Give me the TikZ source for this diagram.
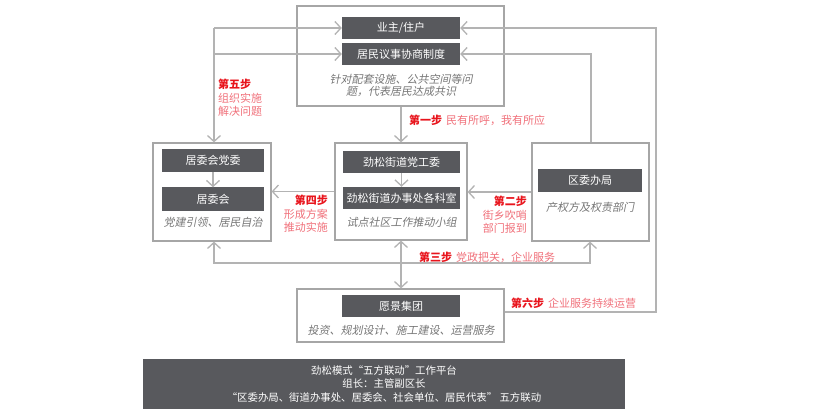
\documentclass[tikz,border=0pt]{standalone}
\usepackage{fontspec}
\setmainfont{Noto Sans CJK SC}
\newfontfamily\cjkit{Noto Sans CJK SC}[FakeSlant=0.2]
\usetikzlibrary{arrows.meta}
\definecolor{cbar}{HTML}{58595D}
\definecolor{cline}{HTML}{B3B3B3}
\definecolor{cbox}{HTML}{A6A6A6}
\definecolor{cnote}{HTML}{767676}
\definecolor{cred}{HTML}{E8141C}
\definecolor{cpink}{HTML}{F0707A}
\newcommand{\stepno}[1]{{\bfseries\color{cred}#1}}
\tikzset{
  frame/.style={draw=cbox, line width=1.2pt, inner sep=0pt},
  barbox/.style={fill=cbar, text=white, inner sep=0pt, minimum height=22pt, font=\fontsize{11}{13}\selectfont},
  note/.style={text=cnote, font=\cjkit\fontsize{11}{12}\selectfont, align=center, inner sep=0pt},
  conn/.style={draw=cline, line width=1.3pt},
  tip/.style={-{Straight Barb[length=6pt,width=13pt]}},
  tips/.style={{Straight Barb[length=6pt,width=13pt]}-{Straight Barb[length=6pt,width=13pt]}},
  steptxt/.style={font=\fontsize{11}{13.5}\selectfont, text=cpink, inner sep=0pt},
}
\begin{document}
\begin{tikzpicture}[x=1pt,y=-1pt]
\useasboundingbox (0,0) rectangle (833,417);

% top box
\node[frame, minimum width=207pt, minimum height=100pt] (topbox) at (400.5,56) {};
\node[barbox, minimum width=118pt] (yz) at (401,28) {业主/住户};
\node[barbox, minimum width=118pt] (jm) at (401,54) {居民议事协商制度};
\node[note] (topnote) at (401,85) {针对配套设施、公共空间等问\\题，代表居民达成共识};

% middle box
\node[frame, minimum width=132pt, minimum height=97pt] (mid) at (401,191.5) {};
\node[barbox, minimum width=117pt] (jsd) at (401.5,162) {劲松街道党工委};
\node[barbox, minimum width=117pt] (jsb) at (401.5,198) {劲松街道办事处各科室};
\node[note] (midnote) at (401.5,222) {试点社区工作推动小组};

% left box
\node[frame, minimum width=118pt, minimum height=98pt] (left) at (212,192) {};
\node[barbox, minimum width=102pt, minimum height=23pt] (jwdw) at (213,160.5) {居委会党委};
\node[barbox, minimum width=102pt, minimum height=23pt] (jwh) at (213,199) {居委会};
\node[note] (leftnote) at (213,222) {党建引领、居民自治};

% right box
\node[frame, minimum width=117pt, minimum height=98pt] (right) at (590.5,192) {};
\node[barbox, minimum width=104pt, minimum height=23pt] (qw) at (590,180.5) {区委办局};
\node[note] (rightnote) at (590,207) {产权方及权责部门};

% yuanjing box
\node[frame, minimum width=207pt, minimum height=53pt] (yj) at (400.5,315.5) {};
\node[barbox, minimum width=118pt] (yjbar) at (401,306) {愿景集团};
\node[note] (yjnote) at (401,330) {投资、规划设计、施工建设、运营服务};

% banner
\node[fill=cbar, minimum width=482pt, minimum height=50pt, text=white, align=center, inner sep=0pt,
      font=\fontsize{10.4}{13.5}\selectfont] (banner) at (384,384)
  {劲松模式“五方联动”工作平台\\组长：主管副区长\\“区委办局、街道办事处、居委会、社会单位、居民代表” 五方联动};

% coordinates
\coordinate (c3L) at (214,263);
\coordinate (c3R) at (590,263);
\coordinate (c5T) at (214,28);
\coordinate (c5M) at (214,54);
\coordinate (c6B) at (656,312);
\coordinate (c6T) at (656,28);
\coordinate (c8) at (591,54);

% connectors
\draw[conn,tip] (topbox.south -| mid.north) -- (mid.north);
\draw[conn,tip] (jsd.south) -- (jsb.north);
\draw[conn,tip] (jwdw.south) -- (jwh.north);
\draw[conn,tip] (mid.west) -- (mid.west -| left.east);
\draw[conn,tip] (right.west) -- (right.west -| mid.east);
\draw[conn,tips] (mid.south) -- (mid.south |- yj.north);
\draw[conn,tips] (left.south -| c3L) -- (c3L) -- (c3R) -- (right.south -| c3R);
\draw[conn,tip] (c5T) -- (yz.west);
\draw[conn,tip] (c5M) -- (jm.west);
\draw[conn,tip] (c5T) -- (left.north -| c5T);
\draw[conn,tip] (yj.east |- c6B) -- (c6B) -- (c6T) -- (yz.east);
\draw[conn,tip] (right.north -| c8) -- (c8) -- (jm.east);

% step labels
\node[steptxt, anchor=west] (s1) at (409,120) {\stepno{第一步}\hspace{4pt}民有所呼，我有所应};
\node[steptxt, anchor=north east, align=right] (s2) at (527,196) {\stepno{第二步}\\街乡吹哨\\部门报到};
\node[steptxt, anchor=west] (s3) at (419,257) {\stepno{第三步}\hspace{4pt}党政把关，企业服务};
\node[steptxt, anchor=north east, align=right] (s4) at (328,195) {\stepno{第四步}\\形成方案\\推动实施};
\node[steptxt, anchor=north west, align=left] (s5) at (218,79) {\stepno{第五步}\\组织实施\\解决问题};
\node[steptxt, anchor=west] (s6) at (511,303) {\stepno{第六步}\hspace{4pt}企业服务持续运营};
\end{tikzpicture}
\end{document}
